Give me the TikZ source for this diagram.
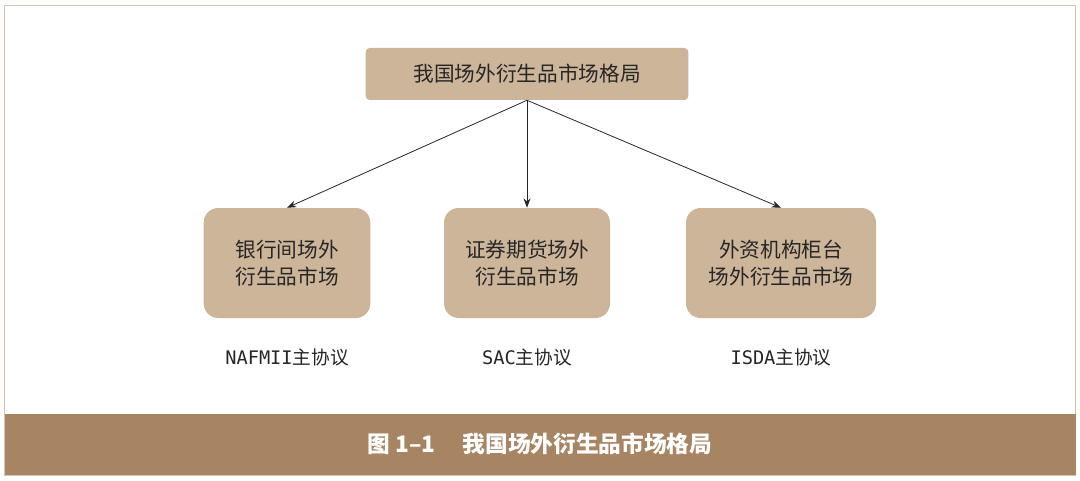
\documentclass[tikz,border=0pt]{standalone}
\usepackage{fontspec}
\newfontfamily\cjk{Noto Sans CJK SC}
\newfontfamily\monofnt{DejaVu Sans Mono}
\usetikzlibrary{arrows.meta,positioning}
\definecolor{boxtan}{HTML}{CDB59A}
\definecolor{bartan}{HTML}{A78462}
\definecolor{linetan}{HTML}{D9C3AB}
\begin{document}
\begin{tikzpicture}[x=0.75pt,y=-0.75pt]
	\tikzstyle{market}=[fill=boxtan,rounded corners=11pt,align=center,font=\cjk\fontsize{15.5}{20}\selectfont,text=black!85]
	\tikzstyle{proto}=[font=\fontsize{14}{17}\selectfont,text=black!85]
	\useasboundingbox (0,0) rectangle (1080,481);

	\draw[linetan,fill=white] (4.5,5.5) rectangle (1075.5,475);
	\fill[bartan] (4.5,414) rectangle (1075.5,475);
	\node (cap) at (540,444) [text=white,font=\cjk\bfseries\fontsize{17}{20}\selectfont] {图 1–1\hspace{1.2em}我国场外衍生品市场格局};

	\node (top) at (527,74) [market,minimum width=242pt,minimum height=39pt,rounded corners=3pt] {我国场外衍生品市场格局};
	\node (bank) at (287,263) [market,minimum width=125pt,minimum height=82.5pt] {银行间场外\\衍生品市场};
	\node (sec) at (527,263) [market,minimum width=124.5pt,minimum height=82.5pt] {证券期货场外\\衍生品市场};
	\node (frn) at (781,263) [market,minimum width=142.5pt,minimum height=82.5pt] {外资机构柜台\\场外衍生品市场};

	\node (nafmii) at (287,357) [proto] {\monofnt NAFMII\cjk 主协议};
	\node (sac) at (527,357) [proto] {\monofnt SAC\cjk 主协议};
	\node (isda) at (781,357) [proto] {\monofnt ISDA\cjk 主协议};

	\path [-{Stealth[length=7pt]}, semithick, black!85] (top.south) edge (bank.north);
	\path [-{Stealth[length=7pt]}, semithick, black!85] (top.south) edge (sec.north);
	\path [-{Stealth[length=7pt]}, semithick, black!85] (top.south) edge (frn.north);
\end{tikzpicture}
\end{document}
